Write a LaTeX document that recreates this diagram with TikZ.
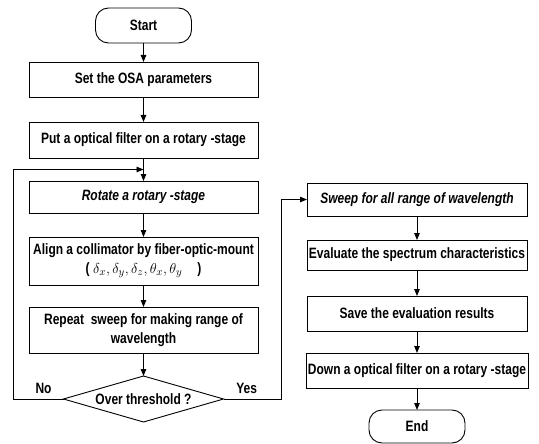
\documentclass[tikz,border=0pt]{standalone}
\usepackage{fontspec}
\setmainfont[FakeStretch=0.8]{Liberation Sans}
\usetikzlibrary{arrows.meta,positioning,shapes.geometric,calc}
\newcommand{\boxfont}{\fontsize{15}{19}\selectfont\bfseries}

\begin{document}
\begin{tikzpicture}[
      node distance=20pt,
      box/.style={draw,line width=0.9pt,align=center,font=\boxfont,
                  minimum width=229pt,inner xsep=2pt,inner ysep=0pt,outer sep=0pt},
      rbox/.style={box,minimum width=220pt},
      itbox/.style={font=\boxfont\itshape},
      term/.style={box,rounded corners=13pt,minimum width=96pt,minimum height=35pt},
      decision/.style={draw,line width=0.9pt,diamond,aspect=3.48,font=\boxfont,
                  minimum width=160pt,minimum height=46pt,inner sep=0pt,outer sep=0pt},
      flow/.style={-{Triangle[length=7pt,width=5.5pt]},line width=0.9pt},
      lbl/.style={font=\boxfont,inner sep=0pt},
    ]
    \useasboundingbox (0,0) rectangle (539pt,-444pt);

    % left column
    \node[term] (start) at (143.5pt,-25.5pt) {Start};
    \node[box,minimum height=35pt,below=19pt of start] (osa) {Set the OSA parameters};
    \node[box,minimum height=36pt,below=25pt of osa] (put) {Put a optical filter on a rotary -stage};
    \node[box,itbox,minimum height=32pt,below=23pt of put] (rotate) {Rotate a rotary -stage};
    \node[box,minimum height=48pt,below=24pt of rotate] (align)
      {Align a collimator by fiber-optic-mount\\( $\delta_x,\delta_y,\delta_z,\theta_x,\theta_y$\quad)};
    \node[box,minimum height=46pt,below=22pt of align] (repeat)
      {Repeat\ \ sweep for making range of\\wavelength};
    \node[decision,below=23pt of repeat] (check) {Over threshold ?};

    % right column
    \node[rbox,itbox,minimum height=33pt] (sweep) at (417pt,-199.5pt) {Sweep for all range of wavelength};
    \node[rbox,minimum height=30pt,below=24pt of sweep] (eval) {Evaluate the spectrum characteristics};
    \node[rbox,minimum height=35pt,below=26pt of eval] (save) {Save the evaluation results};
    \node[rbox,minimum height=35pt,below=22pt of save] (down) {Down a optical filter on a rotary -stage};
    \node[term,minimum height=33pt,below=22pt of down] (stop) {End};

    \coordinate (loopin) at ($(put.south)!0.5!(rotate.north)$);

    \draw[flow] (start) -- (osa);
    \draw[flow] (osa) -- (put);
    \draw[flow] (put) -- (rotate);
    \draw[flow] (rotate) -- (align);
    \draw[flow] (align) -- (repeat);
    \draw[flow] (repeat) -- (check);
    \draw[flow] (check.west) -- node[lbl,above=5pt,pos=0.4] {No} ++(-50pt,0) |- (loopin);
    \draw[flow] (check.east) -- node[lbl,above=5pt,pos=0.4] {Yes} ++(58pt,0) |- (sweep.west);
    \draw[flow] (sweep) -- (eval);
    \draw[flow] (eval) -- (save);
    \draw[flow] (save) -- (down);
    \draw[flow] (down) -- (stop);
  \end{tikzpicture}
\end{document}
